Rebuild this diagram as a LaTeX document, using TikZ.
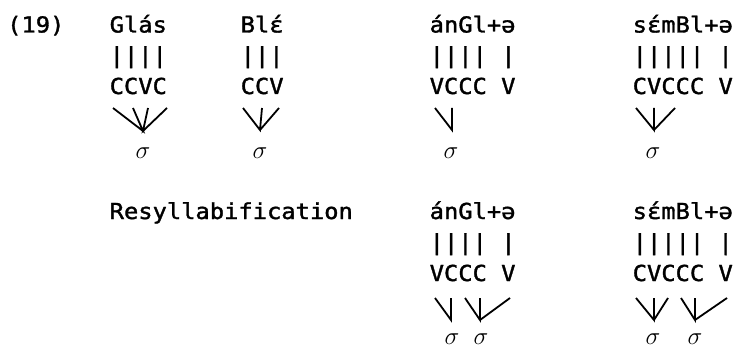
\documentclass[tikz,border=0pt]{standalone}
\usepackage{fontspec}
% typewriter-style monospaced face, slightly widened and darkened
\newfontfamily\twfont[FakeStretch=1.08,FakeBold=1.5]{DejaVu Sans Mono}
\tikzset{
  tw/.style={anchor=base west, inner sep=0pt, font=\twfont\fontsize{22}{26}\selectfont},
  syl/.style={inner sep=0pt, font=\fontsize{27}{32}\selectfont},
  branch/.style={line width=1.8pt}
}
\begin{document}
\begin{tikzpicture}[x=1pt,y=-1pt]
\useasboundingbox (0,0) rectangle (734,350);

% ---------- upper block: syllabification ----------
\node[tw] (ex)   at (7,32.5)     {(19)};
\node[tw] (w1)   at (109.5,32.5) {Glás};
\node[tw] (b1)   at (109.5,63)   {||||};
\node[tw] (c1)   at (109.5,94)   {CCVC};
\node[tw] (w2)   at (240.5,32.5) {Blɛ́};
\node[tw] (b2)   at (240.5,63)   {|||};
\node[tw] (c2)   at (240.5,94)   {CCV};
\node[tw] (w3)   at (429.5,32.5) {ánGl+ə};
\node[tw] (b3)   at (429.5,63)   {|||| |};
\node[tw] (c3)   at (429.5,94)   {VCCC V};
\node[tw] (w4)   at (632.5,32.5) {sɛ́mBl+ə};
\node[tw] (b4)   at (632.5,63)   {||||| |};
\node[tw] (c4)   at (632.5,94)   {CVCCC V};

% syllable nodes
\node[syl] (s1) at (143,153) {$\sigma$};
\node[syl] (s2) at (260,153) {$\sigma$};
\node[syl] (s3) at (451,153) {$\sigma$};
\node[syl] (s4) at (653,153) {$\sigma$};

% branch ends and joins
\coordinate (j1) at (143,131);
\foreach \n/\x in {a/113,b/133,c/148,d/167} \coordinate (t1\n) at (\x,108);
\coordinate (j2) at (260,130);
\foreach \n/\x in {a/243,b/262,c/279} \coordinate (t2\n) at (\x,108);
\coordinate (j3) at (452,130);
\foreach \n/\x in {a/435,b/452} \coordinate (t3\n) at (\x,108);
\coordinate (j4) at (654,130);
\foreach \n/\x in {a/636,b/654,c/675} \coordinate (t4\n) at (\x,108);

\draw[branch] (t1a) -- (j1) -- (t1b) (t1c) -- (j1) -- (t1d);
\draw[branch] (t2a) -- (j2) -- (t2b) (t2c) -- (j2);
\draw[branch] (t3a) -- (j3) -- (t3b);
\draw[branch] (t4a) -- (j4) -- (t4b) (t4c) -- (j4);

% ---------- lower block: resyllabification ----------
\node[tw] (rs)   at (109.5,219)  {Resyllabification};
\node[tw] (w5)   at (429.5,219)  {ánGl+ə};
\node[tw] (b5)   at (429.5,250)  {|||| |};
\node[tw] (c5)   at (429.5,281)  {VCCC V};
\node[tw] (w6)   at (632.5,219)  {sɛ́mBl+ə};
\node[tw] (b6)   at (632.5,250)  {||||| |};
\node[tw] (c6)   at (632.5,281)  {CVCCC V};

\node[syl] (s5a) at (452,339) {$\sigma$};
\node[syl] (s5b) at (481,339) {$\sigma$};
\node[syl] (s6a) at (653,339) {$\sigma$};
\node[syl] (s6b) at (695,339) {$\sigma$};

\coordinate (j5a) at (451,320);
\coordinate (j5b) at (480,320);
\foreach \n/\x in {a/435,b/451,c/465,d/480,e/510} \coordinate (t5\n) at (\x,298);
\coordinate (j6a) at (654,320);
\coordinate (j6b) at (695,320);
\foreach \n/\x in {a/636,b/654,c/668,d/681,e/695,f/727} \coordinate (t6\n) at (\x,298);

\draw[branch] (t5a) -- (j5a) -- (t5b);
\draw[branch] (t5c) -- (j5b) -- (t5d) (t5e) -- (j5b);
\draw[branch] (t6a) -- (j6a) -- (t6b) (t6c) -- (j6a);
\draw[branch] (t6d) -- (j6b) -- (t6e) (t6f) -- (j6b);
\end{tikzpicture}
\end{document}
